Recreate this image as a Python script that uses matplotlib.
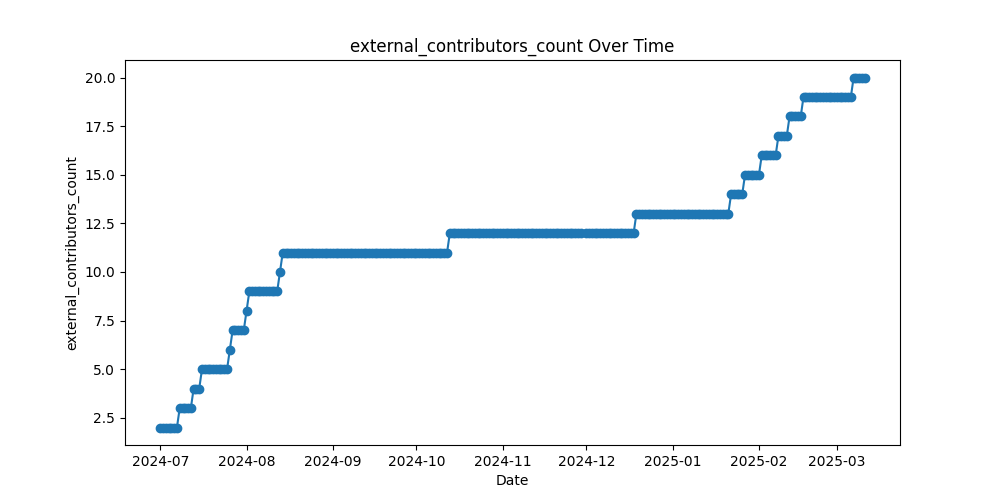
import matplotlib
matplotlib.use("Agg")
import matplotlib.pyplot as plt
import pandas as pd

# runs of constant value (daily samples)
run_start = ['2024-07-01', '2024-07-08', '2024-07-13', '2024-07-16', '2024-07-26',
             '2024-07-27', '2024-08-01', '2024-08-02', '2024-08-13', '2024-08-14',
             '2024-10-13', '2024-12-01', '2024-12-19', '2025-01-22', '2025-01-27',
             '2025-02-02', '2025-02-08', '2025-02-12', '2025-02-17', '2025-03-07']
run_end = ['2024-07-07', '2024-07-12', '2024-07-15', '2024-07-25', '2024-07-26',
           '2024-07-31', '2024-08-01', '2024-08-12', '2024-08-13', '2024-10-12',
           '2024-11-29', '2024-12-18', '2025-01-21', '2025-01-26', '2025-02-01',
           '2025-02-07', '2025-02-11', '2025-02-16', '2025-03-06', '2025-03-11']
run_value = [2, 3, 4, 5, 6,
             7, 8, 9, 10, 11,
             12, 12, 13, 14, 15,
             16, 17, 18, 19, 20]

dates = []
counts = []
for start, end, val in zip(run_start, run_end, run_value):
    days = pd.date_range(start, end, freq='D')
    dates.extend(days)
    counts.extend([val] * len(days))

plt.figure(figsize=(10, 5), dpi=100)
plt.plot(dates, counts, marker='o')
plt.title('external_contributors_count Over Time')
plt.xlabel('Date')
plt.ylabel('external_contributors_count')
plt.savefig('out.png')
plt.close()
